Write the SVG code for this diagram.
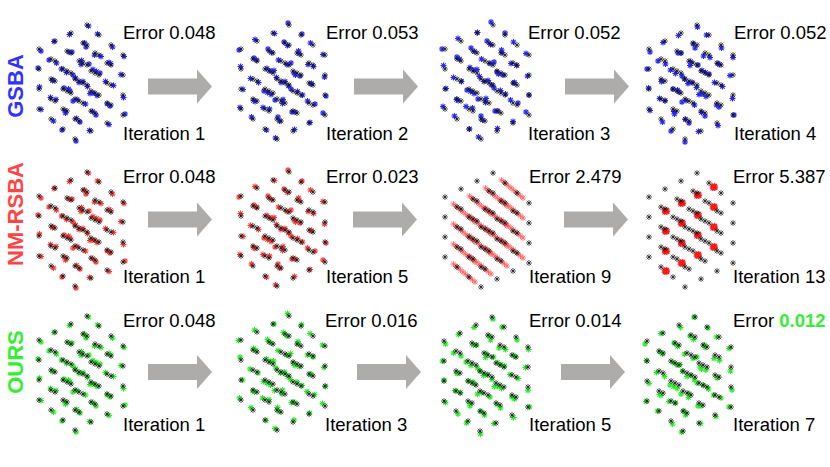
<svg xmlns="http://www.w3.org/2000/svg" width="830" height="467" viewBox="0 0 830 467">
<style>
text{font-family:"Liberation Sans",Arial,sans-serif;font-size:18.5px;fill:#000}
.lbl{font-size:22px;font-weight:bold}
.tb{fill:#3333FF}.tr{fill:#FF4545}.tg{fill:#33EE33}
.gb{fill:#33EE33;font-weight:bold}
.k{color:#111;stroke-width:0.7}
.b{color:#1E1EFF;stroke-width:1.1;opacity:0.95}
.r{color:#FF2A2A;stroke-width:1.1;opacity:0.9}
.rs{color:#FF2A2A;stroke-width:0.8;opacity:0.75}
.rc{color:#FF1A1A;stroke-width:1.2}
.g{color:#22EE22;stroke-width:1.1;opacity:0.95}
.arr{fill:#AEABAB}
</style>
<defs>
<path id="a" d="M-3 0H3M0-3V3M-2.2-2.2L2.2 2.2M-2.2 2.2L2.2-2.2" stroke="currentColor" fill="none"/>
<g id="c"><use href="#a"/><use href="#a" y="20"/><use href="#a" y="40"/><use href="#a" y="60"/></g>
<g id="L">
<use href="#c" x="0" y="0"/><use href="#c" x="12" y="10"/><use href="#c" x="24" y="20"/><use href="#c" x="36" y="30"/>
<use href="#c" x="-16" y="8"/><use href="#c" x="-4" y="18"/><use href="#c" x="8" y="28"/><use href="#c" x="20" y="38"/>
<use href="#c" x="-32" y="16"/><use href="#c" x="-20" y="26"/><use href="#c" x="-8" y="36"/><use href="#c" x="4" y="46"/>
<use href="#c" x="-48" y="24"/><use href="#c" x="-36" y="34"/><use href="#c" x="-24" y="44"/><use href="#c" x="-12" y="54"/>
</g>
<g id="J">
<use href="#a" x="1.5" y="1"/><use href="#a" x="-1" y="22"/><use href="#a" x="2" y="39"/><use href="#a" x="0.5" y="61.5"/>
<use href="#a" x="10.5" y="9"/><use href="#a" x="14" y="31.5"/><use href="#a" x="13" y="48"/><use href="#a" x="10" y="70.5"/>
<use href="#a" x="25.5" y="22"/><use href="#a" x="23.5" y="38.5"/><use href="#a" x="26.5" y="60.5"/><use href="#a" x="23" y="81"/>
<use href="#a" x="37" y="31.5"/><use href="#a" x="34" y="49.5"/><use href="#a" x="36.5" y="72.5"/><use href="#a" x="38" y="89"/>
<use href="#a" x="-17.5" y="9.5"/><use href="#a" x="-15" y="27"/><use href="#a" x="-14" y="50"/><use href="#a" x="-17" y="66"/>
<use href="#a" x="-2.5" y="18"/><use href="#a" x="-6" y="39.5"/><use href="#a" x="-4" y="56.5"/><use href="#a" x="-1.5" y="79"/>
<use href="#a" x="7.5" y="30"/><use href="#a" x="9.5" y="46.5"/><use href="#a" x="6" y="68"/><use href="#a" x="9" y="90"/>
<use href="#a" x="22" y="37.5"/><use href="#a" x="18.5" y="56.5"/><use href="#a" x="20.5" y="79"/><use href="#a" x="22" y="99.5"/>
<use href="#a" x="-33" y="16.5"/><use href="#a" x="-30.5" y="38"/><use href="#a" x="-34" y="55"/><use href="#a" x="-31" y="74.5"/>
<use href="#a" x="-18" y="27"/><use href="#a" x="-20.5" y="47.5"/><use href="#a" x="-18.5" y="64"/><use href="#a" x="-21.5" y="88"/>
<use href="#a" x="-5.5" y="35.5"/><use href="#a" x="-8" y="57.5"/><use href="#a" x="-10" y="74.5"/><use href="#a" x="-7" y="97"/>
<use href="#a" x="6" y="44.5"/><use href="#a" x="3" y="68.5"/><use href="#a" x="5.5" y="86.5"/><use href="#a" x="2.5" y="105.5"/>
<use href="#a" x="-46" y="26"/><use href="#a" x="-49" y="43"/><use href="#a" x="-47.5" y="62"/><use href="#a" x="-46" y="84.5"/>
<use href="#a" x="-38" y="35"/><use href="#a" x="-34.5" y="55.5"/><use href="#a" x="-36.5" y="72.5"/><use href="#a" x="-33.5" y="96"/>
<use href="#a" x="-25.5" y="44"/><use href="#a" x="-23" y="63"/><use href="#a" x="-22" y="85.5"/><use href="#a" x="-25" y="105"/>
<use href="#a" x="-11.5" y="53"/><use href="#a" x="-14" y="76"/><use href="#a" x="-10.5" y="93.5"/><use href="#a" x="-11" y="116"/>
</g>
<g id="s">
<use href="#a" x="1.2" y="1"/><use href="#a" x="3.6" y="3"/><use href="#a" x="6" y="5"/><use href="#a" x="8.4" y="7"/><use href="#a" x="10.8" y="9"/><use href="#a" x="13.2" y="11"/><use href="#a" x="15.6" y="13"/><use href="#a" x="18" y="15"/><use href="#a" x="20.4" y="17"/><use href="#a" x="22.8" y="19"/>
</g>
<g id="sc"><use href="#s"/><use href="#s" y="20"/><use href="#s" y="40"/><use href="#s" y="60"/></g>
<g id="S"><use href="#sc" x="7.2" y="6"/><use href="#sc" x="-8.8" y="14"/><use href="#sc" x="-24.8" y="22"/><use href="#sc" x="-40.8" y="30"/></g>
<g id="q"><use href="#a"/><use href="#a" x="1.2" y="0.8"/><use href="#a" x="-1" y="1.1"/><use href="#a" x="1" y="-1"/><use href="#a" x="-1.1" y="-0.8"/></g>
<g id="qc"><use href="#q"/><use href="#q" y="20"/><use href="#q" y="40"/><use href="#q" y="60"/></g>
<g id="Q"><use href="#qc" x="16.8" y="14"/><use href="#qc" x="0.8" y="22"/><use href="#qc" x="-15.2" y="30"/><use href="#qc" x="-31.2" y="38"/></g>
<path id="ar" d="M0-8H49V-17L64 0L49 17V8H0Z"/>
</defs>

<g id="labels">
<text class="lbl tb" transform="translate(23,86) rotate(-90)" text-anchor="middle">GSBA</text>
<text class="lbl tr" transform="translate(23,214) rotate(-90)" text-anchor="middle">NM-RSBA</text>
<text class="lbl tg" transform="translate(23,362) rotate(-90)" text-anchor="middle">OURS</text>
</g>

<g id="gsba-1" transform="translate(87,25)"><use href="#J" class="b"/><use href="#L" class="k"/></g>
<g id="gsba-2" transform="translate(289,25)"><use href="#J" class="b" transform="rotate(180 -6 57)"/><use href="#L" class="k"/></g>
<g id="gsba-3" transform="translate(493,25)"><use href="#J" class="b" transform="rotate(180 -6 57) translate(1,1)"/><use href="#L" class="k"/></g>
<g id="gsba-4" transform="translate(697,25)"><use href="#J" class="b" transform="translate(-1,1)"/><use href="#L" class="k"/></g>

<g id="nm-1" transform="translate(87,172)"><use href="#J" class="r"/><use href="#L" class="k"/></g>
<g id="nm-5" transform="translate(289,172)"><use href="#J" class="r" transform="rotate(180 -6 57)"/><use href="#L" class="k"/></g>
<g id="nm-9" transform="translate(493,173)"><use href="#S" class="rs"/><use href="#L" class="k"/></g>
<g id="nm-13" transform="translate(697,173)"><use href="#Q" class="rc"/><use href="#L" class="k"/></g>

<g id="ours-1" transform="translate(87,316)"><use href="#J" class="g"/><use href="#L" class="k"/></g>
<g id="ours-3" transform="translate(289,316)"><use href="#J" class="g" transform="rotate(180 -6 57) translate(0.5,0.5)"/><use href="#L" class="k"/></g>
<g id="ours-5" transform="translate(492,317)"><use href="#J" class="g" transform="translate(-0.5,1)"/><use href="#L" class="k"/></g>
<g id="ours-7" transform="translate(695,317)"><use href="#J" class="g" transform="rotate(180 -6 57) translate(0,-2)"/><use href="#L" class="k"/></g>

<g id="connectors" class="arr">
<use href="#ar" x="148" y="86.5"/><use href="#ar" x="354" y="86.5"/><use href="#ar" x="565" y="86.5"/>
<use href="#ar" x="148" y="219.5"/><use href="#ar" x="353" y="219.5"/><use href="#ar" x="564" y="219.5"/>
<use href="#ar" x="148" y="372"/><use href="#ar" x="357" y="372"/><use href="#ar" x="561" y="372"/>
</g>

<g id="texts">
<text x="123" y="39">Error 0.048</text><text x="123" y="140">Iteration 1</text>
<text x="326" y="39">Error 0.053</text><text x="326" y="140">Iteration 2</text>
<text x="528" y="39">Error 0.052</text><text x="528" y="140">Iteration 3</text>
<text x="734" y="39">Error 0.052</text><text x="734" y="140">Iteration 4</text>
<text x="123" y="183">Error 0.048</text><text x="123" y="283">Iteration 1</text>
<text x="326" y="183">Error 0.023</text><text x="326" y="283">Iteration 5</text>
<text x="529" y="183">Error 2.479</text><text x="529" y="283">Iteration 9</text>
<text x="733" y="183">Error 5.387</text><text x="733" y="283">Iteration 13</text>
<text x="123" y="327">Error 0.048</text><text x="123" y="431">Iteration 1</text>
<text x="325" y="327">Error 0.016</text><text x="325" y="431">Iteration 3</text>
<text x="529" y="327">Error 0.014</text><text x="529" y="431">Iteration 5</text>
<text x="733" y="327">Error <tspan class="gb">0.012</tspan></text><text x="733" y="431">Iteration 7</text>
</g>
</svg>
